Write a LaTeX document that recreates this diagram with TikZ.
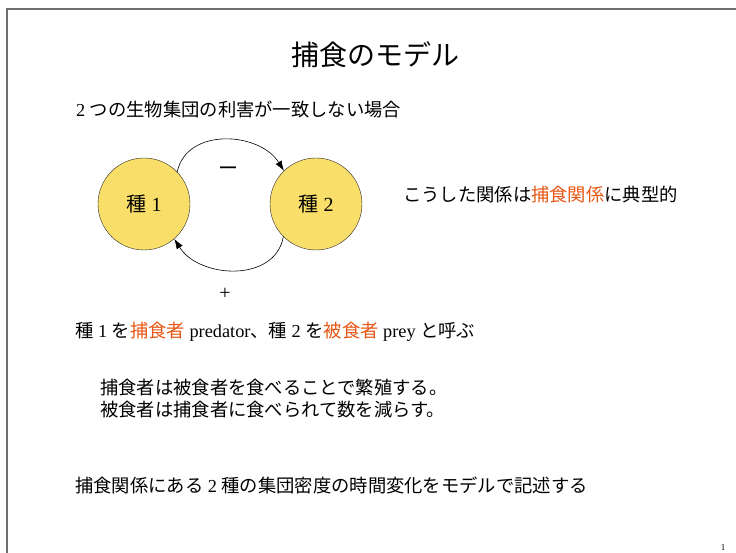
\documentclass[tikz,border=0pt]{standalone}
\usepackage{fontspec}
\setmainfont{Liberation Serif}
\newfontfamily\jp{Noto Sans CJK JP}
\usetikzlibrary{arrows.meta}
\definecolor{hiorange}{RGB}{230,86,20}
\definecolor{spyellow}{RGB}{249,223,106}
\definecolor{framegray}{RGB}{110,110,110}
\tikzset{species/.style={circle, draw=black!85, fill=spyellow, thin,
         minimum size=92pt, inner sep=0pt, font=\fontsize{20}{24}\selectfont},
         body/.style={anchor=west, inner sep=0pt, font=\fontsize{18.3}{22}\selectfont},
         effect/.style={-{Latex[length=10pt,width=7pt]}, semithick}}
\newcommand{\hl}[1]{\textcolor{hiorange}{\jp #1}}

\begin{document}
\begin{tikzpicture}[x=1pt,y=1pt]
      \useasboundingbox (0,0) rectangle (736,553);
      \draw[framegray, line width=1.3pt] (7,0) -- (7,544) -- (736,544);

      \node[inner sep=0pt, font=\fontsize{28}{32}\selectfont\jp] (title) at (375,498) {捕食のモデル};
      \node[body] (case) at (76,443) {2 {\jp つの生物集団の利害が一致しない場合}};

      \node[species] (sp1) at (144,349) {{\jp 種} 1};
      \node[species] (sp2) at (316,349) {{\jp 種} 2};
      \draw[effect] (sp1.44) to[out=78,in=122,looseness=1.1] node[pos=.5,below=23pt,xshift=3pt,font=\fontsize{20}{22}\selectfont\jp] (minus) {ー} (sp2.134);
      \draw[effect] (sp2.225) to[out=-100,in=-58,looseness=1.1] node[pos=.5,below=15pt,xshift=-10pt,font=\fontsize{20}{22}\selectfont] (plus) {+} (sp1.311);

      \node[body] (typical) at (403,358) {\jp こうした関係は\hl{捕食関係}に典型的};
      \node[body] (names) at (75,221) {{\jp 種} 1 {\jp を}\hl{捕食者} predator{\jp 、種} 2 {\jp を}\hl{被食者} prey {\jp と呼ぶ}};
      \node[body] (eat) at (100,165) {\jp 捕食者は被食者を食べることで繁殖する。};
      \node[body] (eaten) at (100,143) {\jp 被食者は捕食者に食べられて数を減らす。};
      \node[body] (model) at (75,68) {{\jp 捕食関係にある} 2 {\jp 種の集団密度の時間変化をモデルで記述する}};
      \node[inner sep=0pt, font=\fontsize{9}{10}\selectfont] (page) at (723,5) {1};
    \end{tikzpicture}
\end{document}
